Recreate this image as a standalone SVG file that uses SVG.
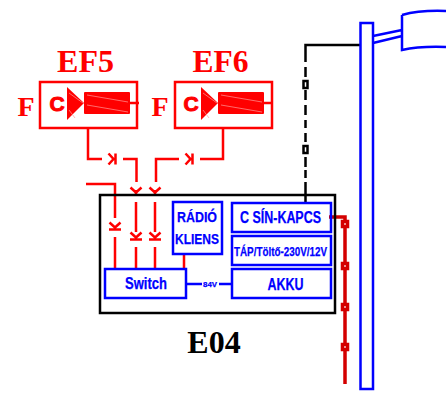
<svg xmlns="http://www.w3.org/2000/svg" width="446" height="393" viewBox="0 0 446 393">
<defs>
<style>
.r{fill:none;stroke:#f00;stroke-width:2.500}
.rf{fill:#f00;stroke:none}
.hl{fill:none;stroke:#ff9a9a;stroke-width:.7}
.b{fill:none;stroke:#00f;stroke-width:2.500}
.ef{font-family:"Liberation Serif",serif;font-weight:bold;font-size:32px;fill:#f00;text-anchor:middle}
.f{font-family:"Liberation Serif",serif;font-weight:bold;font-size:28px;fill:#f00;text-anchor:middle}
.c{font-family:"Liberation Sans",sans-serif;font-weight:bold;font-size:21px;fill:#f00;stroke:#f00;stroke-width:1;text-anchor:middle}
.t{font-family:"Liberation Sans",sans-serif;font-weight:bold;fill:#00f;stroke:#00f;stroke-width:.25;text-anchor:middle}
.term{fill:#fff;stroke:#d40000;stroke-width:3.500}
.mark{fill:#fff;stroke:#000;stroke-width:2.500}
</style>
<g id="sw"><path d="M-5.500 -3.500L0 1.500L5.500 -3.500M-6 3.500H6" fill="none" stroke="#f00" stroke-width="2.500"/></g>
<g id="sv"><path d="M-5.500 -3.500L0 1.500L5.500 -3.500" fill="none" stroke="#f00" stroke-width="2.500"/></g>
<g id="swh"><path d="M-3.500 -5.500L1.500 0L-3.500 5.500M3.500 -5.500V5.500" fill="none" stroke="#f00" stroke-width="2.500"/></g>
</defs>
<rect width="446" height="393" fill="#fff"/>
<g id="connectors">
<path class="r" d="M88 128V159H102M123 159H136.500V182M156 182V159H179M200 159H223V128"/>
<path class="r" d="M86 184H115V218M115 237V269M136 190V195M136 202V232M136 247V269M155 190V195M155 202V232M155 247V269M184 254V269"/>
<use href="#swh" x="112" y="159"/><use href="#swh" x="189" y="159"/>
<use href="#sw" x="115" y="226"/><use href="#sv" x="136" y="191"/><use href="#sv" x="155" y="191"/><use href="#sw" x="136" y="236"/><use href="#sw" x="155" y="236"/>
<path d="M186 284H202M219 284H232" fill="none" stroke="#00f" stroke-width="2.500"/>
<path d="M305.500 62V45H360" fill="none" stroke="#000" stroke-width="2.500"/>
<path d="M305.500 67V77M305.500 90V100M305.500 105V115M305.500 120V128M305.500 133V142M305.500 157V167M305.500 170V178M305.500 182V203" fill="none" stroke="#000" stroke-width="2.500"/>
<rect class="mark" x="303.500" y="81" width="4" height="7"/>
<rect class="mark" x="303.500" y="146" width="4" height="7"/>
<path d="M329 217H345V384" fill="none" stroke="#d40000" stroke-width="3.500"/>
</g>
<g id="EF5"><text class="ef" x="85.500" y="72" textLength="57" lengthAdjust="spacingAndGlyphs">EF5</text><text class="f" x="26" y="116">F</text><rect class="r" x="40" y="82" width="97" height="46"/><text class="c" x="57" y="111">C</text><path class="rf" d="M67 87L84 103L67 120Z"/><rect class="rf" x="84" y="92" width="46" height="22" rx="1"/><path class="hl" d="M87 95L128 102M87 105L128 112M69 93L83 103M69 110L75 118"/><path class="r" d="M130 103H139"/></g>
<g id="EF6"><text class="ef" x="220.500" y="72" textLength="56" lengthAdjust="spacingAndGlyphs">EF6</text><text class="f" x="160" y="116">F</text><rect class="r" x="175" y="82" width="97" height="46"/><text class="c" x="191" y="111">C</text><path class="rf" d="M201 87L218 103L201 120Z"/><rect class="rf" x="218" y="92" width="46" height="22" rx="1"/><path class="hl" d="M221 95L262 102M221 105L262 112M203 93L217 103M203 110L209 118"/><path class="r" d="M264 103H273"/></g>
<g id="E04"><rect x="100" y="195" width="235" height="118" fill="none" stroke="#000" stroke-width="2.500"/><text x="214" y="353" font-family="Liberation Serif,serif" font-weight="bold" font-size="32" text-anchor="middle">E04</text></g>
<g id="radio"><rect class="b" x="173" y="202" width="49" height="52"/><text class="t" x="197" y="222" font-size="15" textLength="40" lengthAdjust="spacingAndGlyphs">RÁDIÓ</text><text class="t" x="197" y="244" font-size="15" textLength="44" lengthAdjust="spacingAndGlyphs">KLIENS</text></g>
<g id="switch"><rect class="b" x="105" y="269" width="81" height="29"/><text class="t" x="146" y="289" font-size="16" textLength="42" lengthAdjust="spacingAndGlyphs">Switch</text></g>
<text class="t" x="210" y="287" font-size="8" textLength="14" lengthAdjust="spacingAndGlyphs">84V</text>
<g id="csin"><rect class="b" x="232" y="203" width="99" height="29"/><text class="t" x="280.500" y="223" font-size="16" textLength="81" lengthAdjust="spacingAndGlyphs">C SÍN-KAPCS</text></g>
<g id="tap"><rect class="b" x="232" y="236" width="99" height="29"/><text class="t" x="280.500" y="256" font-size="13" textLength="93" lengthAdjust="spacingAndGlyphs">TÁP/Töltő-230V/12V</text></g>
<g id="akku"><rect class="b" x="232" y="269" width="99" height="29"/><text class="t" x="285.500" y="290" font-size="16" textLength="36" lengthAdjust="spacingAndGlyphs">AKKU</text></g>
<g id="lamp">
<path class="b" d="M360.500 23H373V389H360.500Z"/>
<path d="M373 36L402 30M373 43L402 36M402 15V50Q420 46 446 47M402 15Q420 10 446 11" fill="none" stroke="#00f" stroke-width="2.500"/>
</g>
<g id="terminals"><rect class="term" x="342.500" y="221.500" width="5" height="5"/><rect class="term" x="342.500" y="263.500" width="5" height="5"/><rect class="term" x="342.500" y="304.500" width="5" height="5"/><rect class="term" x="342.500" y="344.500" width="5" height="5"/></g>
</svg>
